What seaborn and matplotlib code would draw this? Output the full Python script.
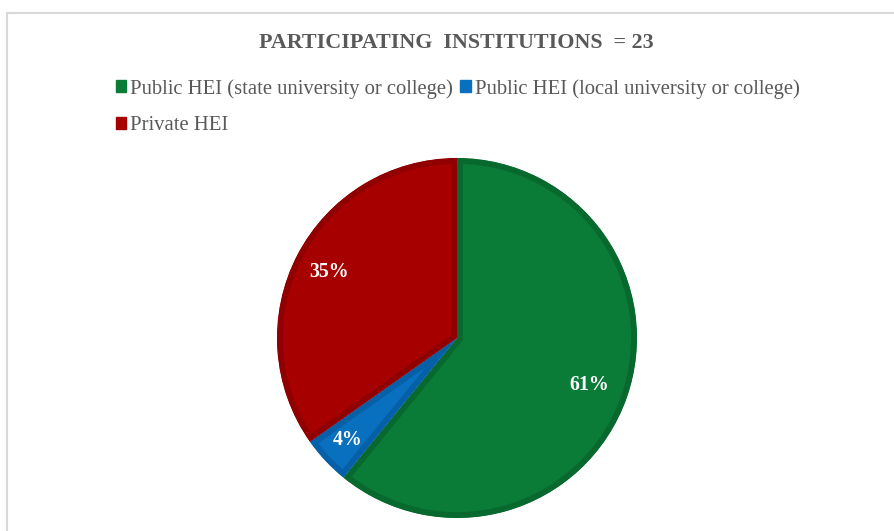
import matplotlib
matplotlib.use("Agg")
import matplotlib.pyplot as plt
import matplotlib.patches as mpatches
import numpy as np
import seaborn as sns

categories = ["Public HEI (state university or college)",
              "Public HEI (local university or college)",
              "Private HEI"]
counts = [14, 1, 8]
pct_labels = ["61%", "4%", "35%"]
colors = ["#0B7B38", "#0870BF", "#A70000"]
edge_colors = ["#08692F", "#0660A8", "#900000"]
title = "PARTICIPATING  INSTITUTIONS  = 23"

sns.set_theme(style="white")
plt.rcParams["font.family"] = ["Liberation Serif", "DejaVu Serif"]

W, H = 894, 531
fig = plt.figure(figsize=(W / 100, H / 100), dpi=100)

# chart border
border = mpatches.Rectangle((7 / W, -0.1), 1.2, (531 - 13) / H + 0.1,
                            transform=fig.transFigure, fill=False,
                            edgecolor="#D9D9D9", linewidth=1.5)
fig.patches.append(border)

cx, cy, r = 457, 338, 180
ax = fig.add_axes([(cx - r) / W, (H - cy - r) / H, 2 * r / W, 2 * r / H])
wedges, _ = ax.pie(counts, colors=colors, startangle=90, counterclock=False,
                   radius=1.0, wedgeprops=dict(linewidth=0))
for w, ec in zip(wedges, edge_colors):
    w.set_edgecolor(ec)
    w.set_linewidth(8.5)
    w.set_joinstyle("miter")
    w.set_clip_on(True)
    w.set_clip_path(w)

total = sum(counts)
start = 90.0
dists = [0.78, 0.83, 0.80]
for c, lab, d in zip(counts, pct_labels, dists):
    span = 360.0 * c / total
    mid = np.deg2rad(start - span / 2)
    ax.text(d * np.cos(mid), d * np.sin(mid), lab, ha="center", va="center",
            color="white", fontsize=14.3, fontweight="bold")
    start -= span
ax.set_xlim(-1, 1)
ax.set_ylim(-1, 1)
ax.set_axis_off()

fig.text(456 / W, 1 - 48 / H, title, ha="center", va="baseline",
         fontsize=15.8, fontweight="bold", color="#595959")

handles = [mpatches.Patch(color=c) for c in colors]
order = [0, 2, 1]
leg = fig.legend([handles[i] for i in order], [categories[i] for i in order],
                 loc="upper left", bbox_to_anchor=(116 / W, 1 - 79 / H),
                 ncol=2, frameon=False, fontsize=14.9,
                 handlelength=0.5, handleheight=0.5, handletextpad=0.2,
                 columnspacing=0.34, labelspacing=0.84, borderpad=0,
                 borderaxespad=0)
for t in leg.get_texts():
    t.set_color("#595959")

fig.savefig("out.png", dpi=100)
